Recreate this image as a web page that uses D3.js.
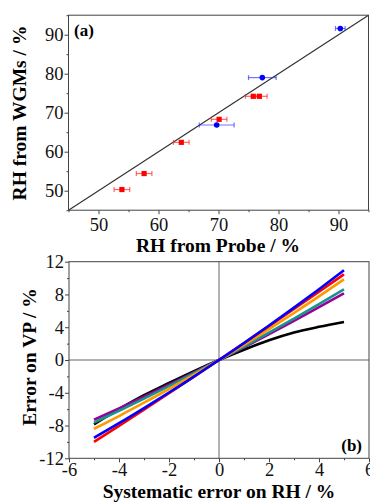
<!DOCTYPE html>
<html>
<head>
<meta charset="utf-8">
<script src="https://cdn.jsdelivr.net/npm/d3@7"></script>
<style>
  body { margin: 0; background: #fff; }
  svg { display: block; font-family: "Liberation Serif", "DejaVu Serif", serif; }
  svg text { font-family: "Liberation Serif", "DejaVu Serif", serif; }
</style>
</head>
<body>
<script>
// panel (a): RH from probe vs RH from WGMs
const redProbe = [53.9, 57.6, 63.8, 70.1, 75.8, 76.8];
const redWgm   = [50.3, 54.4, 62.4, 68.3, 74.2, 74.2];
const redErr   = [1.3, 1.3, 1.3, 1.3, 1.3, 1.3];
const blueProbe = [69.7, 77.3, 90.3];
const blueWgm   = [66.85, 79.0, 91.6];
const blueErrX  = [2.9, 2.3, 0.8];
const blueErrY  = [0.6, 0.6, 0.3];
const aTicks = [50, 60, 70, 80, 90];
const aMinor = [45, 55, 65, 75, 85, 95];

// panel (b): error on VP vs systematic error on RH
const sysErr = [-5, -4, -3, -2, -1, 0, 1, 2, 3, 4, 5];
const vpBlue   = [-9.5, -7.72, -5.87, -3.97, -2.02, 0, 2.07, 4.21, 6.40, 8.64, 10.95];
const vpRed    = [-10.0, -8.04, -6.06, -4.06, -2.04, 0, 2.06, 4.13, 6.22, 8.33, 10.46];
const vpOrange = [-8.4, -6.84, -5.21, -3.54, -1.80, 0, 1.85, 3.77, 5.74, 7.76, 9.85];
const vpTeal   = [-7.65, -6.20, -4.71, -3.18, -1.61, 0, 1.65, 3.33, 5.06, 6.83, 8.63];
const vpPurple = [-7.3, -5.91, -4.48, -3.02, -1.53, 0, 1.56, 3.16, 4.78, 6.45, 8.14];
const vpBlack  = [-7.85, -6.0, -4.3, -2.8, -1.35, 0, 1.25, 2.4, 3.35, 4.05, 4.65];
const bXTicks = [-6, -4, -2, 0, 2, 4, 6];
const bYTicks = [-12, -8, -4, 0, 4, 8, 12];
const bXMinor = [-5, -3, -1, 1, 3, 5];
const bYMinor = [-10, -6, -2, 2, 6, 10];

const svg = d3.select("body").append("svg")
  .attr("width", 370).attr("height", 503);

function frame(x, y) {
  svg.append("rect")
    .attr("x", x.range()[0]).attr("y", y.range()[1])
    .attr("width", x.range()[1] - x.range()[0])
    .attr("height", y.range()[0] - y.range()[1])
    .attr("fill", "none").attr("stroke", "#444").attr("stroke-width", 1);
}

// plain hyphen for negatives, like the original figure
const fmt = d => String(d);

function axes(x, y, xt, yt, xMinor, yMinor, padX) {
  const y0 = y.range()[0], x0 = x.range()[0];
  const gs = [];
  let g = svg.append("g").attr("transform", `translate(0,${y0})`);
  g.call(d3.axisBottom(x).tickValues(xMinor).tickSize(2).tickFormat(""));
  gs.push(g);
  g = svg.append("g").attr("transform", `translate(0,${y0})`);
  g.call(d3.axisBottom(x).tickValues(xt).tickSize(4).tickPadding(padX).tickFormat(fmt));
  gs.push(g);
  g = svg.append("g").attr("transform", `translate(${x0},0)`);
  g.call(d3.axisLeft(y).tickValues(yMinor).tickSize(2).tickFormat(""));
  gs.push(g);
  g = svg.append("g").attr("transform", `translate(${x0},0)`);
  g.call(d3.axisLeft(y).tickValues(yt).tickSize(4).tickPadding(1).tickFormat(fmt));
  gs.push(g);
  gs.forEach(g => {
    g.attr("font-family", null).attr("font-size", null);
    g.select(".domain").remove();
    g.selectAll("line").attr("stroke", "#444");
    g.selectAll("text").style("font-family", "'Liberation Serif', serif").attr("font-size", 18.5).attr("fill", "#111");
  });
}

// ---- panel (a)
const xa = d3.scaleLinear().domain([45, 95]).range([68.5, 368.5]);
const ya = d3.scaleLinear().domain([45, 95]).range([210.2, 15.2]);

svg.append("line")
  .attr("x1", xa(45)).attr("y1", ya(45)).attr("x2", xa(95)).attr("y2", ya(95))
  .attr("stroke", "#333").attr("stroke-width", 1.2);

function errBars(px, py, ex, ey, col) {
  const g = svg.append("g").attr("stroke", col).attr("stroke-width", 1.2);
  px.forEach((v, i) => {
    const cy = ya(py[i]);
    g.append("line").attr("x1", xa(v - ex[i])).attr("x2", xa(v + ex[i])).attr("y1", cy).attr("y2", cy);
    g.append("line").attr("x1", xa(v - ex[i])).attr("x2", xa(v - ex[i])).attr("y1", cy - 2.5).attr("y2", cy + 2.5);
    g.append("line").attr("x1", xa(v + ex[i])).attr("x2", xa(v + ex[i])).attr("y1", cy - 2.5).attr("y2", cy + 2.5);
    if (ey) {
      g.append("line").attr("x1", xa(v)).attr("x2", xa(v)).attr("y1", ya(py[i] - ey[i])).attr("y2", ya(py[i] + ey[i]));
    }
  });
}
errBars(redProbe, redWgm, redErr, null, "rgba(255,40,40,0.7)");
errBars(blueProbe, blueWgm, blueErrX, blueErrY, "rgba(40,40,255,0.65)");

svg.append("g").selectAll("rect").data(redProbe).enter().append("rect")
  .attr("x", (d) => xa(d) - 2.6)
  .attr("y", (d, i) => ya(redWgm[i]) - 2.6)
  .attr("width", 5.2).attr("height", 5.2)
  .attr("fill", "#ff0000");

svg.append("g").selectAll("circle").data(blueProbe).enter().append("circle")
  .attr("cx", (d) => xa(d))
  .attr("cy", (d, i) => ya(blueWgm[i]))
  .attr("r", 2.8)
  .attr("fill", "#0000ff");

frame(xa, ya);
axes(xa, ya, aTicks, aTicks, aMinor, aMinor, 4);

svg.append("text").attr("x", 74).attr("y", 36).attr("font-size", 17).attr("font-weight", "bold").text("(a)");
svg.append("text").attr("x", 218).attr("y", 252).attr("text-anchor", "middle")
  .attr("font-size", 19.5).attr("font-weight", "bold").text("RH from Probe / %");
svg.append("text").attr("transform", "translate(26,113) rotate(-90)").attr("text-anchor", "middle")
  .attr("font-size", 19.5).attr("font-weight", "bold").text("RH from WGMs / %");

// ---- panel (b)
const xb = d3.scaleLinear().domain([-6, 6]).range([69, 369]);
const yb = d3.scaleLinear().domain([-12, 12]).range([458.3, 261.7]);

svg.append("line").attr("x1", xb(0)).attr("x2", xb(0)).attr("y1", yb(-12)).attr("y2", yb(12))
  .attr("stroke", "#666").attr("stroke-width", 1);
svg.append("line").attr("x1", xb(-6)).attr("x2", xb(6)).attr("y1", yb(0)).attr("y2", yb(0))
  .attr("stroke", "#666").attr("stroke-width", 1);

const series = [
  { v: vpBlack, c: "#000000" },
  { v: vpPurple, c: "#990099" },
  { v: vpTeal, c: "#15968a" },
  { v: vpOrange, c: "#ff9900" },
  { v: vpRed, c: "#ff0000" },
  { v: vpBlue, c: "#0000ff" }
];
const line = d3.line().x((d, i) => xb(sysErr[i])).y(d => yb(d)).curve(d3.curveMonotoneX);
svg.append("g").selectAll("path").data(series).enter().append("path")
  .attr("d", d => line(d.v))
  .attr("fill", "none").attr("stroke", d => d.c).attr("stroke-width", 2.6);

frame(xb, yb);
axes(xb, yb, bXTicks, bYTicks, bXMinor, bYMinor, 1);

svg.append("text").attr("x", 362).attr("y", 451).attr("text-anchor", "end")
  .attr("font-size", 17).attr("font-weight", "bold").text("(b)");
svg.append("text").attr("x", 219).attr("y", 498).attr("text-anchor", "middle")
  .attr("font-size", 19.5).attr("font-weight", "bold").text("Systematic error on RH / %");
svg.append("text").attr("transform", "translate(36,357) rotate(-90)").attr("text-anchor", "middle")
  .attr("font-size", 19.5).attr("font-weight", "bold").text("Error on VP / %");
</script>
</body>
</html>
